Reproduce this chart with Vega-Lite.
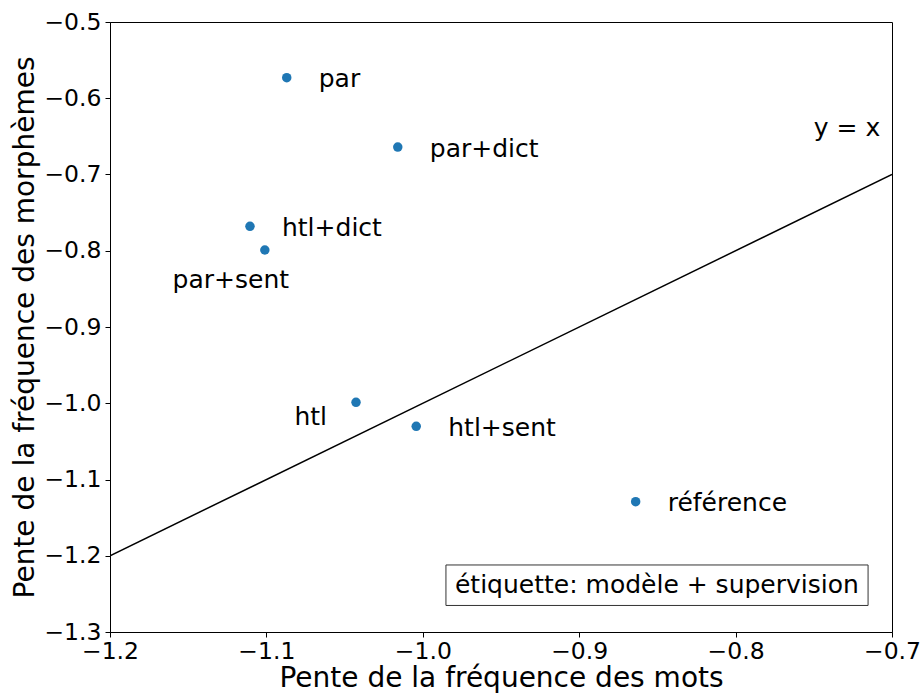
{
  "$schema": "https://vega.github.io/schema/vega-lite/v6.json",
  "width": 782,
  "height": 610,
  "autosize": {"type": "none"},
  "padding": {"left": 110, "top": 22, "right": 30, "bottom": 61},
  "background": "white",
  "config": {
    "view": {"stroke": "black", "strokeWidth": 1},
    "font": "DejaVu Sans",
    "axis": {
      "grid": false,
      "domainColor": "black",
      "tickColor": "black",
      "labelColor": "black",
      "titleColor": "black",
      "labelFont": "DejaVu Sans",
      "titleFont": "DejaVu Sans",
      "labelFontSize": 23.5,
      "titleFontSize": 28,
      "titleFontWeight": "normal",
      "tickSize": 5,
      "labelFlush": false,
      "labelOverlap": false,
      "domainWidth": 1,
      "tickWidth": 1
    }
  },
  "data": {
    "values": [
      {"name": "par", "x": -1.087, "y": -0.573},
      {"name": "par+dict", "x": -1.016, "y": -0.664},
      {"name": "htl+dict", "x": -1.1105, "y": -0.768},
      {"name": "par+sent", "x": -1.101, "y": -0.799},
      {"name": "htl", "x": -1.0427, "y": -0.9988},
      {"name": "htl+sent", "x": -1.0042, "y": -1.0302},
      {"name": "référence", "x": -0.8639, "y": -1.1291}
    ]
  },
  "encoding": {
    "x": {
      "field": "x",
      "type": "quantitative",
      "scale": {"domain": [-1.2, -0.7], "nice": false, "zero": false},
      "axis": {
        "values": [-1.2, -1.1, -1.0, -0.9, -0.8, -0.7],
        "labelExpr": "'\u2212' + format(abs(datum.value), '.1f')",
        "title": "Pente de la fréquence des mots",
        "titleY": 54,
        "titleBaseline": "alphabetic",
        "labelPadding": 2
      }
    },
    "y": {
      "field": "y",
      "type": "quantitative",
      "scale": {"domain": [-1.3, -0.5], "nice": false, "zero": false},
      "axis": {
        "values": [-1.3, -1.2, -1.1, -1.0, -0.9, -0.8, -0.7, -0.6, -0.5],
        "labelExpr": "'\u2212' + format(abs(datum.value), '.1f')",
        "title": "Pente de la fréquence des morphèmes",
        "titleX": -77,
        "titleBaseline": "alphabetic",
        "labelPadding": 4
      }
    }
  },
  "layer": [
    {
      "data": {"values": [{"x": -1.2, "y": -1.2}, {"x": -0.7, "y": -0.7}]},
      "mark": {"type": "line", "color": "black", "strokeWidth": 1.5, "clip": true}
    },
    {
      "mark": {"type": "circle", "size": 90, "color": "#1f77b4", "opacity": 1}
    },
    {
      "transform": [{"filter": "datum.name != 'htl' && datum.name != 'par+sent'"}],
      "mark": {"type": "text", "align": "left", "baseline": "alphabetic", "dx": 32, "dy": 9.5, "fontSize": 25, "color": "black"},
      "encoding": {"text": {"field": "name"}}
    },
    {
      "transform": [{"filter": "datum.name == 'htl'"}],
      "mark": {"type": "text", "align": "right", "baseline": "alphabetic", "dx": -29, "dy": 23, "fontSize": 25, "color": "black"},
      "encoding": {"text": {"field": "name"}}
    },
    {
      "transform": [{"filter": "datum.name == 'par+sent'"}],
      "mark": {"type": "text", "align": "center", "baseline": "alphabetic", "dx": -34, "dy": 38, "fontSize": 25, "color": "black"},
      "encoding": {"text": {"field": "name"}}
    },
    {
      "data": {"values": [{"x": -0.75, "y": -0.65, "label": "y = x"}]},
      "mark": {"type": "text", "align": "left", "baseline": "alphabetic", "fontSize": 25, "color": "black"},
      "encoding": {"text": {"field": "label"}}
    },
    {
      "data": {"values": [{"x": -0.9852, "x2": -0.7153, "y": -1.2121, "y2": -1.2652}]},
      "mark": {"type": "rect", "fill": "white", "stroke": "#333333", "strokeWidth": 1},
      "encoding": {"x2": {"field": "x2"}, "y2": {"field": "y2"}}
    },
    {
      "data": {"values": [{"x": -0.8503, "y": -1.2489, "label": "étiquette: modèle + supervision"}]},
      "mark": {"type": "text", "align": "center", "baseline": "alphabetic", "fontSize": 25, "color": "black"},
      "encoding": {"text": {"field": "label"}}
    }
  ]
}
